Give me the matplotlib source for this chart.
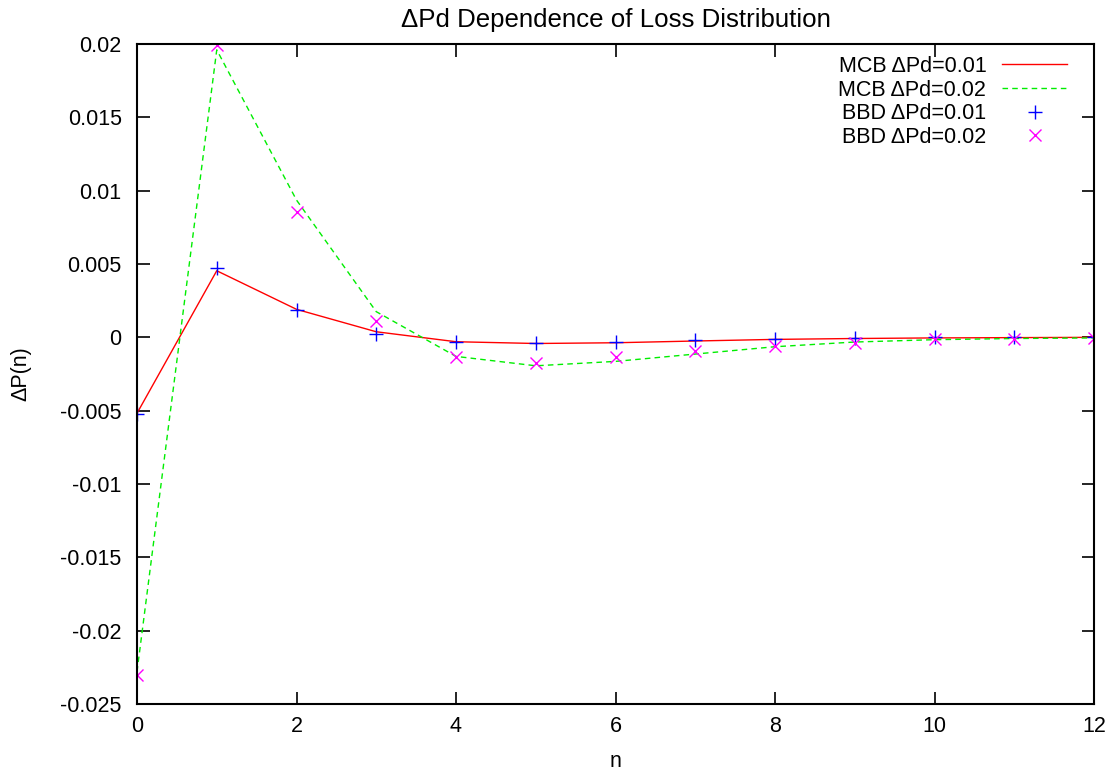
import matplotlib
matplotlib.use("Agg")
import matplotlib.pyplot as plt
import numpy as np

n = list(range(13))
mcb_001 = [-0.00518, 0.00454, 0.00191, 0.00038, -0.00030, -0.00042, -0.00037, -0.00025, -0.00014, -0.00008, -0.00004, -0.00002, 0.0]
mcb_002 = [-0.0228, 0.0196, 0.00936, 0.00175, -0.00130, -0.00194, -0.00164, -0.00114, -0.00064, -0.00032, -0.00016, -0.00008, -0.00004]
bbd_001 = [-0.00520, 0.00475, 0.00186, 0.00022, -0.00030, -0.00040, -0.00030, -0.00018, -0.00010, -0.00003, -0.00001, 0.0, 0.0]
bbd_002 = [-0.0230, 0.0199, 0.00853, 0.00113, -0.00134, -0.00173, -0.00136, -0.00091, -0.00060, -0.00036, -0.00012, -0.00008, -0.00005]

xticks = [0, 2, 4, 6, 8, 10, 12]
yticks = [-0.025, -0.02, -0.015, -0.01, -0.005, 0, 0.005, 0.01, 0.015, 0.02]
yticklabels = ["-0.025", "-0.02", "-0.015", "-0.01", "-0.005", "0", "0.005", "0.01", "0.015", "0.02"]

plt.rcParams['font.family'] = ['Liberation Sans', 'DejaVu Sans']
plt.rcParams['font.size'] = 15.5

fig = plt.figure(figsize=(11.14, 7.71), dpi=100)
ax = fig.add_axes([137/1114, 1 - 704/771, (1094 - 137)/1114, (704 - 44)/771])

ax.plot(n, mcb_001, color='#ff0000', lw=1.0, label='MCB ΔPd=0.01')
ax.plot(n, mcb_002, color='#00ee00', lw=1.0, dashes=(4, 3), label='MCB ΔPd=0.02')
ax.plot(n, bbd_001, ls='none', marker='+', color='#0000ff', ms=10, mew=1.0, label='BBD ΔPd=0.01')
ax.plot(n, bbd_002, ls='none', marker='x', color='#ff00ff', ms=9, mew=1.0, label='BBD ΔPd=0.02')

ax.set_xlim(0, 12)
ax.set_ylim(-0.025, 0.02)
ax.set_xticks(xticks)
ax.set_yticks(yticks)
ax.set_yticklabels(yticklabels)
ax.tick_params(direction='in', length=9, width=1.2, top=True, right=True)
ax.tick_params(axis='x', pad=9)
ax.tick_params(axis='y', pad=11)
for s in ax.spines.values():
    s.set_linewidth(1.5)

ax.set_xlabel('n', labelpad=10)
ax.set_ylabel('ΔP(n)')
ax.yaxis.set_label_coords(-0.11, 0.5)
ax.set_title('ΔPd Dependence of Loss Distribution', pad=12)

leg = ax.legend(loc='upper right', frameon=False, markerfirst=False, handlelength=3.0,
                handletextpad=0.75, labelspacing=0.12, borderpad=0, borderaxespad=0,
                bbox_to_anchor=(930/957, (704 - 56)/660))
for vp in leg._legend_handle_box.get_children():
    vp.align = 'right'

fig.savefig('out.png', dpi=100)
